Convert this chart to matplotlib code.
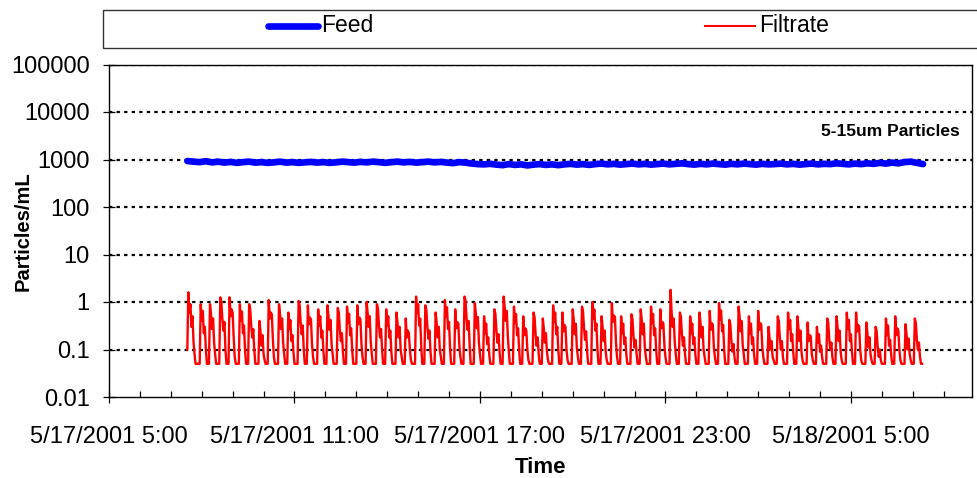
from datetime import datetime

import matplotlib as mpl
import matplotlib.dates as mdates
import matplotlib.pyplot as plt
import pandas as pd
from matplotlib.lines import Line2D
from matplotlib.patches import Rectangle
from matplotlib.ticker import FixedLocator, FuncFormatter, NullLocator

mpl.rcParams.update(
    {
        "font.family": ["Liberation Sans", "DejaVu Sans"],
        "font.size": 16,
        "axes.linewidth": 1.0,
    }
)

# Feed particle counts, logged every 12 minutes
FEED_START = datetime(2001, 5, 17, 7, 32)
FEED_STEP = "12min"
feed = [
    930, 900, 880, 920, 870, 900, 860, 890, 850, 880, 900, 860,
    880, 850, 870, 900, 860, 880, 850, 870, 890, 860, 880, 850,
    870, 900, 880, 860, 890, 870, 900, 880, 850, 880, 900, 870,
    890, 860, 880, 900, 870, 890, 860, 840, 880, 860, 820, 800,
    790, 810, 780, 760, 800, 770, 790, 750, 780, 800, 770, 790,
    760, 790, 810, 780, 800, 770, 800, 820, 790, 810, 780, 800,
    820, 790, 810, 780, 800, 820, 790, 810, 830, 800, 780, 810,
    790, 820, 800, 780, 810, 790, 820, 800, 780, 810, 790, 800,
    820, 790, 810, 780, 800, 820, 790, 810, 800, 830, 810, 790,
    820, 800, 830, 810, 850, 820, 860, 830, 880, 900, 850, 800,
]

# Filtrate particle counts, logged every 2 minutes (one row per filter cycle)
FILTRATE_START = datetime(2001, 5, 17, 7, 32)
FILTRATE_STEP = "2min"
filtrate_cycles = [
    [0.1, 1.6, 0.6, 0.9, 0.3, 0.5, 0.15, 0.08, 0.05],
    [0.05, 0.05, 0.05, 0.05, 0.9, 0.4, 0.65, 0.22, 0.3, 0.1],
    [0.05, 0.05, 0.05, 0.9, 0.55, 0.27, 0.45, 0.14, 0.08],
    [0.05, 0.05, 0.05, 0.05, 1.25, 1.0, 0.45, 0.25, 0.38, 0.1],
    [0.05, 0.05, 0.05, 1.25, 0.5, 0.7, 0.6, 0.18, 0.07],
    [0.05, 0.05, 0.05, 0.05, 0.9, 0.4, 0.63, 0.22, 0.32, 0.1],
    [0.05, 0.05, 0.05, 0.9, 0.72, 0.32, 0.18, 0.27, 0.1],
    [0.05, 0.05, 0.05, 0.05, 0.4, 0.24, 0.12, 0.2, 0.08, 0.06],
    [0.05, 0.05, 0.05, 1.1, 0.45, 0.6, 0.55, 0.17, 0.07],
    [0.05, 0.05, 0.05, 0.05, 0.9, 0.54, 0.27, 0.45, 0.14, 0.08],
    [0.05, 0.05, 0.05, 0.6, 0.27, 0.42, 0.15, 0.2, 0.09],
    [0.05, 0.05, 0.05, 0.05, 1.05, 0.85, 0.37, 0.21, 0.32, 0.1],
    [0.05, 0.05, 0.05, 0.85, 0.34, 0.47, 0.43, 0.13, 0.07],
    [0.05, 0.05, 0.05, 0.05, 0.7, 0.32, 0.5, 0.18, 0.25, 0.1],
    [0.05, 0.05, 0.05, 0.85, 0.5, 0.26, 0.42, 0.13, 0.08],
    [0.05, 0.05, 0.05, 0.05, 0.75, 0.6, 0.26, 0.15, 0.22, 0.09],
    [0.05, 0.05, 0.05, 0.8, 0.36, 0.56, 0.2, 0.28, 0.1],
    [0.05, 0.05, 0.05, 0.05, 0.85, 0.34, 0.47, 0.43, 0.13, 0.07],
    [0.05, 0.05, 0.05, 1.0, 0.6, 0.3, 0.5, 0.15, 0.08],
    [0.05, 0.05, 0.05, 0.05, 0.9, 0.72, 0.32, 0.18, 0.27, 0.1],
    [0.05, 0.05, 0.05, 0.7, 0.32, 0.5, 0.18, 0.25, 0.09],
    [0.05, 0.05, 0.05, 0.05, 0.6, 0.36, 0.18, 0.3, 0.1, 0.07],
    [0.05, 0.05, 0.05, 0.45, 0.18, 0.25, 0.22, 0.1, 0.06],
    [0.05, 0.05, 0.05, 0.05, 1.3, 0.58, 0.9, 0.32, 0.45, 0.12],
    [0.05, 0.05, 0.05, 0.85, 0.68, 0.3, 0.17, 0.25, 0.09],
    [0.05, 0.05, 0.05, 0.05, 0.6, 0.36, 0.18, 0.3, 0.1, 0.07],
    [0.05, 0.05, 0.05, 1.1, 0.5, 0.77, 0.27, 0.38, 0.1],
    [0.05, 0.05, 0.05, 0.05, 0.7, 0.28, 0.38, 0.35, 0.12, 0.07],
    [0.05, 0.05, 0.05, 1.3, 1.05, 0.45, 0.26, 0.4, 0.12],
    [0.05, 0.05, 0.05, 0.05, 0.95, 0.57, 0.28, 0.48, 0.14, 0.08],
    [0.05, 0.05, 0.05, 0.5, 0.22, 0.35, 0.13, 0.18, 0.08],
    [0.05, 0.05, 0.05, 0.05, 0.7, 0.56, 0.25, 0.14, 0.21, 0.09],
    [0.05, 0.05, 0.05, 1.3, 0.78, 0.4, 0.65, 0.2, 0.09],
    [0.05, 0.05, 0.05, 0.05, 0.8, 0.36, 0.56, 0.2, 0.28, 0.1],
    [0.05, 0.05, 0.05, 0.5, 0.2, 0.28, 0.25, 0.1, 0.06],
    [0.05, 0.05, 0.05, 0.05, 0.6, 0.48, 0.21, 0.12, 0.18, 0.08],
    [0.05, 0.05, 0.05, 0.45, 0.27, 0.14, 0.22, 0.09, 0.06],
    [0.05, 0.05, 0.05, 0.05, 0.85, 0.38, 0.6, 0.21, 0.3, 0.1],
    [0.05, 0.05, 0.05, 0.6, 0.24, 0.33, 0.3, 0.1, 0.06],
    [0.05, 0.05, 0.05, 0.05, 0.7, 0.42, 0.21, 0.35, 0.11, 0.07],
    [0.05, 0.05, 0.05, 0.8, 0.64, 0.28, 0.16, 0.24, 0.09],
    [0.05, 0.05, 0.05, 0.05, 1.0, 0.45, 0.7, 0.25, 0.35, 0.1],
    [0.05, 0.05, 0.05, 0.5, 0.3, 0.15, 0.25, 0.09, 0.06],
    [0.05, 0.05, 0.05, 0.05, 0.95, 0.38, 0.52, 0.48, 0.14, 0.07],
    [0.05, 0.05, 0.05, 0.5, 0.22, 0.35, 0.13, 0.18, 0.08],
    [0.05, 0.05, 0.05, 0.05, 0.55, 0.44, 0.19, 0.11, 0.16, 0.08],
    [0.05, 0.05, 0.05, 0.7, 0.42, 0.21, 0.35, 0.11, 0.07],
    [0.05, 0.05, 0.05, 0.05, 0.8, 0.36, 0.56, 0.2, 0.28, 0.1],
    [0.05, 0.05, 0.05, 0.7, 0.28, 0.38, 0.35, 0.12, 0.07],
    [0.05, 0.05, 0.05, 0.05, 1.8, 0.6, 0.3, 0.45, 0.15, 0.08],
    [0.05, 0.05, 0.05, 0.6, 0.48, 0.21, 0.12, 0.18, 0.08],
    [0.05, 0.05, 0.05, 0.05, 0.5, 0.22, 0.35, 0.13, 0.18, 0.08],
    [0.05, 0.05, 0.05, 0.6, 0.36, 0.18, 0.3, 0.1, 0.07],
    [0.05, 0.05, 0.05, 0.05, 0.65, 0.26, 0.36, 0.33, 0.11, 0.07],
    [0.05, 0.05, 0.05, 0.95, 0.43, 0.66, 0.24, 0.33, 0.1],
    [0.05, 0.05, 0.05, 0.05, 0.42, 0.34, 0.15, 0.09, 0.13, 0.07],
    [0.05, 0.05, 0.05, 0.8, 0.48, 0.24, 0.4, 0.12, 0.08],
    [0.05, 0.05, 0.05, 0.05, 0.5, 0.22, 0.35, 0.13, 0.18, 0.08],
    [0.05, 0.05, 0.05, 0.65, 0.26, 0.36, 0.33, 0.11, 0.07],
    [0.05, 0.05, 0.05, 0.05, 0.3, 0.18, 0.1, 0.15, 0.07, 0.06],
    [0.05, 0.05, 0.05, 0.5, 0.4, 0.18, 0.1, 0.15, 0.07],
    [0.05, 0.05, 0.05, 0.05, 0.6, 0.27, 0.42, 0.15, 0.21, 0.09],
    [0.05, 0.05, 0.05, 0.5, 0.3, 0.15, 0.25, 0.09, 0.06],
    [0.05, 0.05, 0.05, 0.05, 0.37, 0.15, 0.2, 0.19, 0.08, 0.06],
    [0.05, 0.05, 0.05, 0.3, 0.14, 0.21, 0.09, 0.12, 0.07],
    [0.05, 0.05, 0.05, 0.05, 0.45, 0.36, 0.16, 0.1, 0.14, 0.07],
    [0.05, 0.05, 0.05, 0.5, 0.3, 0.15, 0.25, 0.09, 0.06],
    [0.05, 0.05, 0.05, 0.05, 0.6, 0.27, 0.42, 0.15, 0.21, 0.09],
    [0.05, 0.05, 0.05, 0.6, 0.24, 0.33, 0.3, 0.1, 0.06],
    [0.05, 0.05, 0.05, 0.05, 0.37, 0.22, 0.11, 0.18, 0.08, 0.06],
    [0.05, 0.05, 0.05, 0.3, 0.24, 0.11, 0.07, 0.1, 0.06],
    [0.05, 0.05, 0.05, 0.05, 0.45, 0.2, 0.32, 0.12, 0.16, 0.08],
    [0.05, 0.05, 0.05, 0.5, 0.2, 0.28, 0.25, 0.1, 0.06],
    [0.05, 0.05, 0.05, 0.05, 0.34, 0.2, 0.1, 0.17, 0.08, 0.06],
    [0.05, 0.05, 0.05, 0.45, 0.36, 0.16, 0.1, 0.14, 0.07, 0.05, 0.05],
]
filtrate = [v for cycle in filtrate_cycles for v in cycle]

X_MIN = datetime(2001, 5, 17, 5, 0)
X_MAX = datetime(2001, 5, 18, 8, 55)
Y_TICKS = [0.01, 0.1, 1, 10, 100, 1000, 10000, 100000]
SERIES_NAMES = ["Feed", "Filtrate"]
ANNOTATION = "5-15um Particles"

feed_time = pd.date_range(FEED_START, periods=len(feed), freq=FEED_STEP)
filtrate_time = pd.date_range(FILTRATE_START, periods=len(filtrate), freq=FILTRATE_STEP)

W, H = 978, 478
fig = plt.figure(figsize=(W / 100, H / 100), dpi=100)
ax = fig.add_axes([109 / W, 1 - 397 / H, (972 - 109) / W, (397 - 64.5) / H])

ax.plot(feed_time, feed, color="#0000FF", lw=4.8, solid_capstyle="round",
        solid_joinstyle="round", zorder=3)
ax.plot(filtrate_time, filtrate, color="#FF0000", lw=1.7, zorder=3)

ax.set_yscale("log")
ax.set_ylim(0.01, 100000)
ax.yaxis.set_major_locator(FixedLocator(Y_TICKS))
ax.yaxis.set_minor_locator(NullLocator())
ax.yaxis.set_major_formatter(FuncFormatter(lambda v, _: f"{v:g}"))
for v in Y_TICKS[1:]:
    ax.axhline(v, color="black", lw=1.6, ls=(0, (1.5, 1.9)), zorder=1)

ax.set_xlim(X_MIN, X_MAX)
ax.xaxis.set_major_locator(mdates.HourLocator(byhour=[5, 11, 17, 23]))
ax.xaxis.set_minor_locator(mdates.HourLocator())


def fmt_time(x, _):
    d = mdates.num2date(x)
    return f"{d.month}/{d.day}/{d.year} {d.hour}:{d.minute:02d}"


ax.xaxis.set_major_formatter(FuncFormatter(fmt_time))
ax.tick_params(axis="both", which="major", direction="inout", length=8, width=0.9,
               labelsize=17, colors="black")
ax.tick_params(axis="x", which="major", pad=17)
ax.tick_params(axis="y", which="major", pad=10)
ax.tick_params(axis="x", which="minor", direction="in", length=4, width=0.9)

ax.set_xlabel("Time", fontweight="bold", fontsize=16)
ax.xaxis.set_label_coords(0.5, -0.18)
ax.set_ylabel("Particles/mL", fontweight="bold", fontsize=14.5)
ax.yaxis.set_label_coords(-0.089, 0.5)

ax.text(0.986, 0.797, ANNOTATION, transform=ax.transAxes, ha="right", va="center",
        fontweight="bold", fontsize=12.5)

# legend strip across the top
to_fig = lambda px, py: (px / W, 1 - py / H)
x0, y0 = to_fig(103, 48)
x1, y1 = to_fig(990, 10)
fig.add_artist(Rectangle((x0, y0), x1 - x0, y1 - y0, transform=fig.transFigure,
                         fill=False, edgecolor="#333333", lw=1.0))
ly = 1 - 26 / H
fig.add_artist(Line2D([268 / W, 318 / W], [ly, ly], transform=fig.transFigure,
                      color="#0000FF", lw=4.8, solid_capstyle="round"))
fig.text(321 / W, ly, SERIES_NAMES[0], ha="left", va="center", fontsize=16.5)
fig.add_artist(Line2D([705 / W, 755 / W], [ly, ly], transform=fig.transFigure,
                      color="#FF0000", lw=1.5))
fig.text(759 / W, ly, SERIES_NAMES[1], ha="left", va="center", fontsize=16.5)

fig.savefig("out.png", dpi=100)
